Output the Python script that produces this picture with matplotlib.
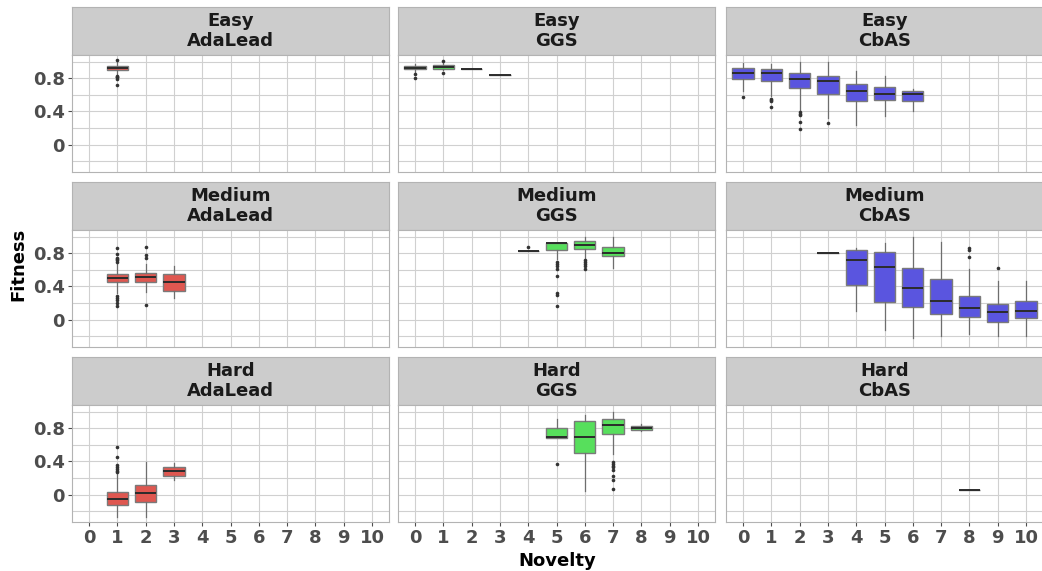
import matplotlib
matplotlib.use('Agg')
import matplotlib.pyplot as plt

# Categorías
dificultades = ['Easy', 'Medium', 'Hard']
metodos = ['AdaLead', 'GGS', 'CbAS']
colores = {'AdaLead': '#DF5750', 'GGS': '#57DF5C', 'CbAS': '#5A55DF'}
novedad_ticks = list(range(0, 11))
fitness_ticks = [0, 0.4, 0.8]

# Estadísticos de cada caja: pos, lo, q1, med, q3, hi, atípicos
easy_adalead_pos = [1]
easy_adalead_lo = [0.83]
easy_adalead_q1 = [0.899]
easy_adalead_med = [0.92]
easy_adalead_q3 = [0.943]
easy_adalead_hi = [0.99]
easy_adalead_out = [[1.02, 0.83, 0.82, 0.81, 0.79, 0.72]]

easy_ggs_pos = [0, 1, 2, 3]
easy_ggs_lo = [0.875, 0.90, 0.915, 0.84]
easy_ggs_q1 = [0.907, 0.915, 0.915, 0.84]
easy_ggs_med = [0.923, 0.935, 0.915, 0.84]
easy_ggs_q3 = [0.943, 0.956, 0.915, 0.84]
easy_ggs_hi = [0.97, 0.98, 0.915, 0.84]
easy_ggs_out = [[0.846, 0.80], [1.01, 0.86], [], []]

easy_cbas_pos = [0, 1, 2, 3, 4, 5, 6]
easy_cbas_lo = [0.644, 0.584, 0.40, 0.32, 0.232, 0.34, 0.40]
easy_cbas_q1 = [0.79, 0.77, 0.685, 0.612, 0.527, 0.539, 0.523]
easy_cbas_med = [0.867, 0.867, 0.794, 0.77, 0.648, 0.612, 0.612]
easy_cbas_q3 = [0.919, 0.915, 0.867, 0.826, 0.733, 0.693, 0.648]
easy_cbas_hi = [0.98, 0.976, 1.0, 1.0, 0.887, 0.826, 0.665]
easy_cbas_out = [[0.576], [0.55, 0.535, 0.523, 0.458],
                 [0.39, 0.374, 0.354, 0.27, 0.19], [0.265], [], [], []]

medium_adalead_pos = [1, 2, 3]
medium_adalead_lo = [0.32, 0.33, 0.26]
medium_adalead_q1 = [0.45, 0.459, 0.35]
medium_adalead_med = [0.503, 0.515, 0.455]
medium_adalead_q3 = [0.547, 0.556, 0.55]
medium_adalead_hi = [0.673, 0.665, 0.645]
medium_adalead_out = [[0.867, 0.786, 0.745, 0.73, 0.715, 0.70, 0.28, 0.26, 0.24, 0.2, 0.168],
                      [0.87, 0.78, 0.737, 0.18], []]

medium_ggs_pos = [4, 5, 6, 7]
medium_ggs_lo = [0.822, 0.725, 0.733, 0.624]
medium_ggs_q1 = [0.822, 0.838, 0.846, 0.77]
medium_ggs_med = [0.822, 0.919, 0.90, 0.806]
medium_ggs_q3 = [0.822, 0.927, 0.943, 0.879]
medium_ggs_hi = [0.822, 0.927, 1.0, 0.99]
medium_ggs_out = [[0.875], [0.70, 0.673, 0.65, 0.616, 0.523, 0.317, 0.30, 0.164],
                  [0.717, 0.693, 0.673, 0.644, 0.604], []]

medium_cbas_pos = [3, 4, 5, 6, 7, 8, 9, 10]
medium_cbas_lo = [0.798, 0.107, -0.123, -0.224, -0.196, -0.176, -0.2, -0.196]
medium_cbas_q1 = [0.798, 0.418, 0.212, 0.15, 0.063, 0.034, -0.034, 0.022]
medium_cbas_med = [0.798, 0.713, 0.636, 0.378, 0.224, 0.143, 0.09, 0.107]
medium_cbas_q3 = [0.798, 0.834, 0.81, 0.624, 0.495, 0.285, 0.188, 0.224]
medium_cbas_hi = [0.798, 0.867, 0.927, 1.0, 0.94, 0.604, 0.463, 0.463]
medium_cbas_out = [[], [], [], [], [], [0.86, 0.834, 0.758], [0.628], []]

hard_adalead_pos = [1, 2, 3]
hard_adalead_lo = [-0.273, -0.265, 0.18]
hard_adalead_q1 = [-0.127, -0.087, 0.224]
hard_adalead_med = [-0.05, 0.018, 0.285]
hard_adalead_q3 = [0.034, 0.115, 0.333]
hard_adalead_hi = [0.253, 0.398, 0.382]
hard_adalead_out = [[0.572, 0.455, 0.36, 0.33, 0.31, 0.29, 0.27], [], []]

hard_ggs_pos = [5, 6, 7, 8]
hard_ggs_lo = [0.68, 0.038, 0.49, 0.765]
hard_ggs_q1 = [0.68, 0.507, 0.725, 0.774]
hard_ggs_med = [0.689, 0.697, 0.842, 0.80]
hard_ggs_q3 = [0.802, 0.887, 0.915, 0.826]
hard_ggs_hi = [0.907, 0.956, 1.0, 0.846]
hard_ggs_out = [[0.374], [], [0.39, 0.37, 0.35, 0.33, 0.30, 0.228, 0.18, 0.067], []]

hard_cbas_pos = [8]
hard_cbas_lo = [0.058]
hard_cbas_q1 = [0.058]
hard_cbas_med = [0.058]
hard_cbas_q3 = [0.058]
hard_cbas_hi = [0.058]
hard_cbas_out = [[]]

paneles = {
    ('Easy', 'AdaLead'): (easy_adalead_pos, easy_adalead_lo, easy_adalead_q1, easy_adalead_med,
                          easy_adalead_q3, easy_adalead_hi, easy_adalead_out),
    ('Easy', 'GGS'): (easy_ggs_pos, easy_ggs_lo, easy_ggs_q1, easy_ggs_med,
                      easy_ggs_q3, easy_ggs_hi, easy_ggs_out),
    ('Easy', 'CbAS'): (easy_cbas_pos, easy_cbas_lo, easy_cbas_q1, easy_cbas_med,
                       easy_cbas_q3, easy_cbas_hi, easy_cbas_out),
    ('Medium', 'AdaLead'): (medium_adalead_pos, medium_adalead_lo, medium_adalead_q1, medium_adalead_med,
                            medium_adalead_q3, medium_adalead_hi, medium_adalead_out),
    ('Medium', 'GGS'): (medium_ggs_pos, medium_ggs_lo, medium_ggs_q1, medium_ggs_med,
                        medium_ggs_q3, medium_ggs_hi, medium_ggs_out),
    ('Medium', 'CbAS'): (medium_cbas_pos, medium_cbas_lo, medium_cbas_q1, medium_cbas_med,
                         medium_cbas_q3, medium_cbas_hi, medium_cbas_out),
    ('Hard', 'AdaLead'): (hard_adalead_pos, hard_adalead_lo, hard_adalead_q1, hard_adalead_med,
                          hard_adalead_q3, hard_adalead_hi, hard_adalead_out),
    ('Hard', 'GGS'): (hard_ggs_pos, hard_ggs_lo, hard_ggs_q1, hard_ggs_med,
                      hard_ggs_q3, hard_ggs_hi, hard_ggs_out),
    ('Hard', 'CbAS'): (hard_cbas_pos, hard_cbas_lo, hard_cbas_q1, hard_cbas_med,
                       hard_cbas_q3, hard_cbas_hi, hard_cbas_out),
}

# Figura y geometría de la rejilla (en píxeles)
W, H = 1042, 571
fig = plt.figure(figsize=(W / 100, H / 100), dpi=100)

izq = [72, 398, 726]
ancho = 317
tira_top = [7, 182, 357]
tira_alto = 48
panel_alto = 117
gris_borde = '#B3B3B3'
gris_grid = '#D0D0D0'


def caja(x, y, w, h):
    return [x / W, 1 - (y + h) / H, w / W, h / H]


for i, dif in enumerate(dificultades):
    for j, met in enumerate(metodos):
        # tira superior con el título del panel
        st = fig.add_axes(caja(izq[j], tira_top[i], ancho, tira_alto))
        st.set_facecolor('#CCCCCC')
        st.set_xticks([])
        st.set_yticks([])
        for s in st.spines.values():
            s.set_color(gris_borde)
        st.text(0.5, 0.5, f'{dif}\n{met}', ha='center', va='center', fontsize=13,
                fontweight='bold', color='#1A1A1A', transform=st.transAxes,
                linespacing=1.1)

        ax = fig.add_axes(caja(izq[j], tira_top[i] + tira_alto, ancho, panel_alto))
        pos, lo, q1, med, q3, hi, out = paneles[(dif, met)]
        stats = [dict(med=m, q1=a, q3=b, whislo=l, whishi=h, fliers=f)
                 for l, a, m, b, h, f in zip(lo, q1, med, q3, hi, out)]
        ax.bxp(stats, positions=pos, widths=0.75, patch_artist=True, showcaps=False,
               manage_ticks=False,
               boxprops=dict(facecolor=colores[met], edgecolor='#7A7A7A', linewidth=1.0),
               medianprops=dict(color='#2B2B2B', linewidth=1.4),
               whiskerprops=dict(color='#6E6E6E', linewidth=0.9),
               flierprops=dict(marker='o', markersize=2.6, markerfacecolor='#333333',
                               markeredgecolor='none'),
               zorder=3)

        ax.set_xlim(-0.6, 10.6)
        ax.set_ylim(-0.33, 1.08)
        ax.set_xticks(novedad_ticks)
        ax.set_yticks(fitness_ticks)
        ax.set_yticks([-0.2, 0.2, 0.6, 1.0], minor=True)
        ax.grid(True, which='both', color=gris_grid, linewidth=0.8, zorder=0)
        ax.set_axisbelow(True)
        for s in ax.spines.values():
            s.set_color(gris_borde)
        ax.tick_params(which='minor', length=0)
        ax.tick_params(colors='#4D4D4D', length=3, width=0.8, labelsize=13, pad=2)
        ax.set_xticklabels([str(t) for t in novedad_ticks], fontweight='bold')
        ax.set_yticklabels(['0', '0.4', '0.8'], fontweight='bold')
        if j != 0:
            ax.tick_params(axis='y', left=False, labelleft=False)
        if i != 2:
            ax.tick_params(axis='x', bottom=False, labelbottom=False)

fig.text(18 / W, 1 - 264 / H, 'Fitness', rotation=90, ha='center', va='center',
         fontsize=13, fontweight='bold', color='black')
fig.text(557 / W, 1 - 561 / H, 'Novelty', ha='center', va='center',
         fontsize=13, fontweight='bold', color='black')

fig.savefig('out.png', dpi=100)
